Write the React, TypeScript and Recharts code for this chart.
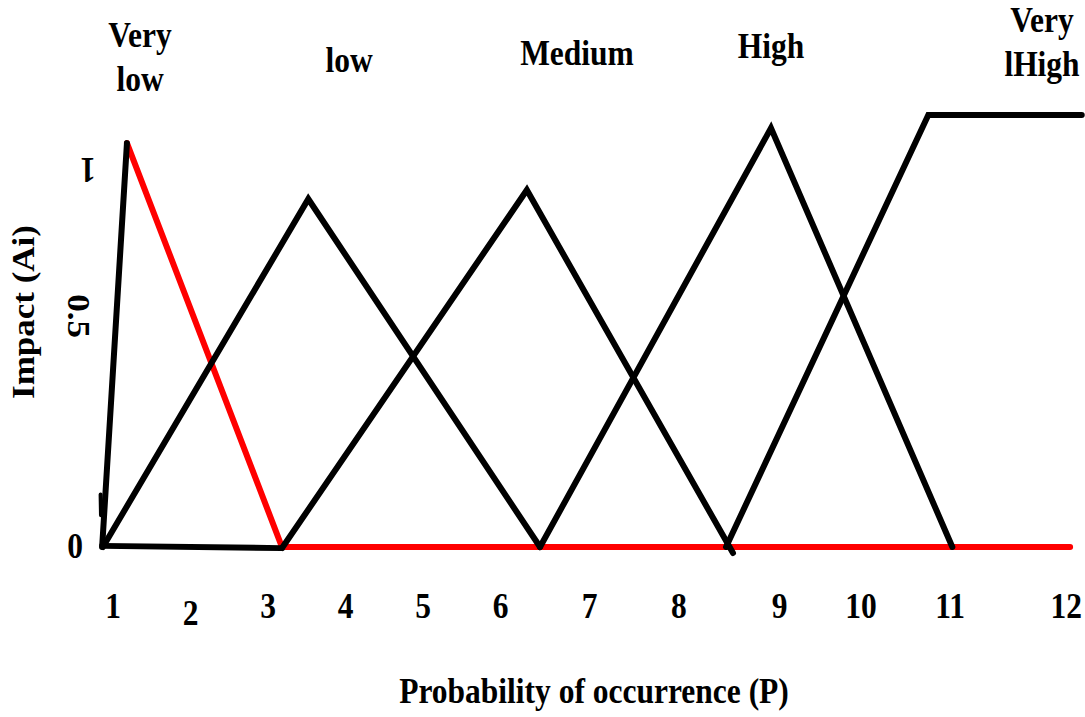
import { LineChart, Line, XAxis, YAxis } from 'recharts';

// probability axis: where the printed tick numbers sit, and what they say
const xTickPos = [1, 2, 3, 4, 5, 6, 7.15, 8.3, 9.6, 10.65, 11.8, 13.3];
const xTickLabels = ['1', '2', '3', '4', '5', '6', '7', '8', '9', '10', '11', '12'];

// impact axis
const yTickPos = [0, 0.616, 1];
const yTickLabels = ['0', '0.5', '1'];

// linguistic terms printed above the curves
const categories = ['Very low', 'low', 'Medium', 'High', 'Very lHigh'];

// membership functions, p = probability, m = membership
const veryLowRise = [{ p: 0.86, m: 0 }, { p: 1.18, m: 1.077 }];
const veryLowBase = [{ p: 0.86, m: 0.003 }, { p: 3.18, m: -0.003 }];
const veryLowStub = [{ p: 0.84, m: 0.14 }, { p: 0.845, m: 0.085 }];
const veryLowFall = [{ p: 1.18, m: 1.077 }, { p: 3.18, m: 0 }, { p: 13.35, m: 0 }];
const low = [{ p: 0.87, m: 0 }, { p: 3.52, m: 0.928 }, { p: 6.51, m: 0 }];
const medium = [{ p: 3.19, m: 0 }, { p: 6.34, m: 0.952 }, { p: 9.0, m: -0.016 }];
const high = [{ p: 6.51, m: 0 }, { p: 9.49, m: 1.117 }, { p: 11.83, m: 0 }];
const veryHigh = [{ p: 8.91, m: 0 }, { p: 11.52, m: 1.152 }, { p: 13.5, m: 1.152 }];

const font = {
  fontFamily: '"Liberation Serif", "Times New Roman", serif',
  fontWeight: 700,
  fontSize: 35,
  fill: '#000',
};

// where each term label goes (centre x, first baseline)
const categoryPlace = [
  { x: 140, y: 47 },
  { x: 349, y: 72 },
  { x: 577, y: 65 },
  { x: 771, y: 58 },
  { x: 1042, y: 32 },
];

// offsets of the odd, rotated impact tick labels
const yTickPlace: Record<string, { dx: number; dy: number; rot: number }> = {
  '0': { dx: 39.5, dy: 11, rot: 0 },
  '0.5': { dx: 32.5, dy: 0, rot: 90 },
  '1': { dx: 52.5, dy: -14, rot: 180 },
};

function XTick(props: any) {
  const { x, y, payload } = props;
  const label = xTickLabels[xTickPos.indexOf(payload.value)];
  const drop = label === '2' ? 7 : 0;
  return (
    <text transform={`translate(${x},${y + 33.5 + drop}) scale(0.9,1)`} textAnchor="middle" style={font}>
      {label}
    </text>
  );
}

function YTick(props: any) {
  const { x, y, payload } = props;
  const label = yTickLabels[yTickPos.indexOf(payload.value)];
  const place = yTickPlace[label];
  if (!place) return null;
  const squash = place.rot === 90 ? 'scale(1,0.9)' : 'scale(0.9,1)';
  return (
    <text
      transform={`translate(${x + place.dx},${y + place.dy}) rotate(${place.rot}) ${squash}`}
      textAnchor="middle"
      style={font}
    >
      {label}
    </text>
  );
}

export default function App() {
  const lineProps = {
    dataKey: 'm',
    dot: false,
    activeDot: false,
    isAnimationActive: false,
    strokeWidth: 6,
    strokeLinejoin: 'miter' as const,
    strokeLinecap: 'round' as const,
  };

  return (
    <div style={{ position: 'absolute', left: 0, top: 0, width: 1085, height: 717, background: '#fff' }}>
      <LineChart width={1085} height={717} margin={{ top: 97, right: 3.25, left: 0, bottom: 0 }}>
        <XAxis
          type="number"
          dataKey="p"
          domain={[0, 13.5]}
          ticks={xTickPos}
          interval={0}
          axisLine={false}
          tickLine={false}
          tickSize={0}
          tickMargin={0}
          height={132.5}
          tick={<XTick />}
        />
        <YAxis
          type="number"
          domain={[-0.1, 1.2]}
          ticks={yTickPos}
          interval={0}
          axisLine={false}
          tickLine={false}
          tickSize={0}
          tickMargin={0}
          width={35.5}
          tick={<YTick />}
        />
        <Line {...lineProps} data={veryLowFall} stroke="#ff0000" />
        <Line {...lineProps} data={veryLowBase} stroke="#000" />
        <Line {...lineProps} data={veryLowRise} stroke="#000" />
        <Line {...lineProps} data={veryLowStub} stroke="#000" strokeWidth={4} />
        <Line {...lineProps} data={low} stroke="#000" />
        <Line {...lineProps} data={medium} stroke="#000" />
        <Line {...lineProps} data={high} stroke="#000" />
        <Line {...lineProps} data={veryHigh} stroke="#000" />
      </LineChart>

      {/* axis titles and term names */}
      <svg width={1085} height={717} style={{ position: 'absolute', left: 0, top: 0, pointerEvents: 'none' }}>
        <text transform="translate(34,312) rotate(-90) scale(1,0.9)" textAnchor="middle" style={font}>
          Impact (Ai)
        </text>
        <text transform="translate(594,703) scale(0.9,1)" textAnchor="middle" style={font}>
          Probability of occurrence (P)
        </text>
        {categories.map((name, i) => {
          const lines = name.split(' ');
          const pos = categoryPlace[i];
          return lines.map((ln, j) => (
            <text
              key={`${i}-${j}`}
              transform={`translate(${pos.x},${pos.y + j * 44}) scale(0.9,1)`}
              textAnchor="middle"
              style={font}
            >
              {ln}
            </text>
          ));
        })}
      </svg>
    </div>
  );
}
